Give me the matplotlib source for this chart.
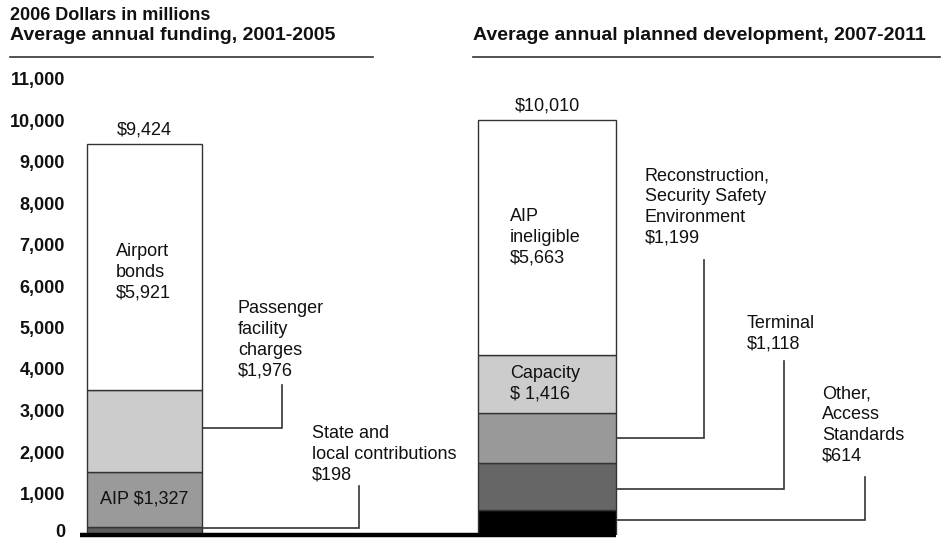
import matplotlib.pyplot as plt
import matplotlib.transforms as mtransforms
from matplotlib.lines import Line2D

plt.rcParams['font.family'] = ['Liberation Sans', 'DejaVu Sans']

# left bar: average annual funding 2001-2005, bottom to top
funding_labels = ['State and\nlocal contributions\n$198', 'AIP $1,327',
                  'Passenger\nfacility\ncharges\n$1,976', 'Airport\nbonds\n$5,921']
funding_values = [198, 1327, 1976, 5921]
funding_total = '$9,424'

# right bar: average annual planned development 2007-2011, bottom to top
planned_labels = ['Other,\nAccess\nStandards\n$614', 'Terminal\n$1,118',
                  'Reconstruction,\nSecurity Safety\nEnvironment\n$1,199',
                  'Capacity\n$ 1,416', 'AIP\nineligible\n$5,663']
planned_values = [614, 1118, 1199, 1416, 5663]
planned_total = '$10,010'

y_ticks = list(range(0, 11001, 1000))

# styling / layout
funding_colors = ['#5e5e5e', '#9a9a9a', '#cccccc', 'white']
planned_colors = ['black', '#666666', '#999999', '#cccccc', 'white']
bar_pos = [0, 1]
bar_width = [0.286, 0.343]
# per segment: text=(x, top y) or 'center'; lead=(fraction in segment, x elbow, y top)
funding_layout = [
    dict(text=(0.416, 2651), lead=(0.85, 0.533, 1181)),
    dict(text='center'),
    dict(text=(0.232, 5663), lead=(0.53, 0.342, 3614)),
    dict(text=(-0.071, 7036)),
]
planned_layout = [
    dict(text=(1.683, 3614), lead=(0.59, 1.790, 1398)),
    dict(text=(1.497, 5301), lead=(0.44, 1.589, 4193)),
    dict(text=(1.243, 8867), lead=(0.505, 1.390, 6627)),
    dict(text=(0.908, 4096)),
    dict(text=(0.908, 7880)),
]

W, H = 946, 542
fig = plt.figure(figsize=(W / 100, H / 100), dpi=100)
ax = fig.add_axes([80 / W, 7 / H, 866 / W, 456.5 / H])
ax.set_xlim(-0.160, 1.991)
ax.set_ylim(0, 11000)

TXT = dict(fontsize=13, color='#111111', linespacing=1.3)
LINE = '#333333'


def draw_bar(pos, width, values, colors, labels, layout, total):
    bottom = 0
    right = pos + width / 2
    for v, c, lab, lay in zip(values, colors, labels, layout):
        ax.bar(pos, v, width, bottom=bottom, color=c, edgecolor=LINE,
               linewidth=1.0, zorder=2)
        if lay['text'] == 'center':
            ax.text(pos, bottom + v / 2, lab, ha='center', va='center', **TXT)
        else:
            ax.text(*lay['text'], lab, ha='left', va='top', **TXT)
        if 'lead' in lay:
            frac, xe, ytop = lay['lead']
            yl = bottom + v * frac
            ax.plot([right, xe, xe], [yl, yl, ytop], color=LINE, lw=1.2,
                    solid_joinstyle='miter', zorder=1)
        bottom += v
    ax.annotate(total, (pos, bottom), xytext=(0, 4), textcoords='offset points',
                ha='center', va='bottom', **TXT)
    return right


draw_bar(bar_pos[0], bar_width[0], funding_values, funding_colors,
         funding_labels, funding_layout, funding_total)
r = draw_bar(bar_pos[1], bar_width[1], planned_values, planned_colors,
             planned_labels, planned_layout, planned_total)

# thick baseline
ax.plot([ax.get_xlim()[0], r], [0, 0], color='black', lw=3.2,
        solid_capstyle='butt', clip_on=False, zorder=5)

for s in ax.spines.values():
    s.set_visible(False)
ax.set_xticks([])
ax.set_yticks(y_ticks)
ax.set_yticklabels([f'{v:,}' for v in y_ticks], fontsize=13,
                   fontweight='bold', color='#111111')
ax.tick_params(axis='y', length=0, pad=10.8)
# keep the "0" label inside the canvas
zero = ax.get_yticklabels()[0]
zero.set_va('baseline')
zero.set_transform(zero.get_transform() +
                   mtransforms.ScaledTranslation(0, -2 / 100, fig.dpi_scale_trans))

# headings
fig.text(10 / W, 1 - 20 / H, '2006 Dollars in millions', fontsize=13,
         fontweight='bold', va='baseline', color='#111111')
fig.text(10 / W, 1 - 40.5 / H, 'Average annual funding, 2001-2005',
         fontsize=14, fontweight='bold', va='baseline', color='#111111')
fig.text(473 / W, 1 - 40.5 / H, 'Average annual planned development, 2007-2011',
         fontsize=14, fontweight='bold', va='baseline', color='#111111')
for x0, x1 in [(10, 373), (473, 940)]:
    fig.add_artist(Line2D([x0 / W, x1 / W], [1 - 57 / H] * 2,
                          transform=fig.transFigure, color=LINE, lw=1.2))

fig.savefig('out.png', dpi=100)
